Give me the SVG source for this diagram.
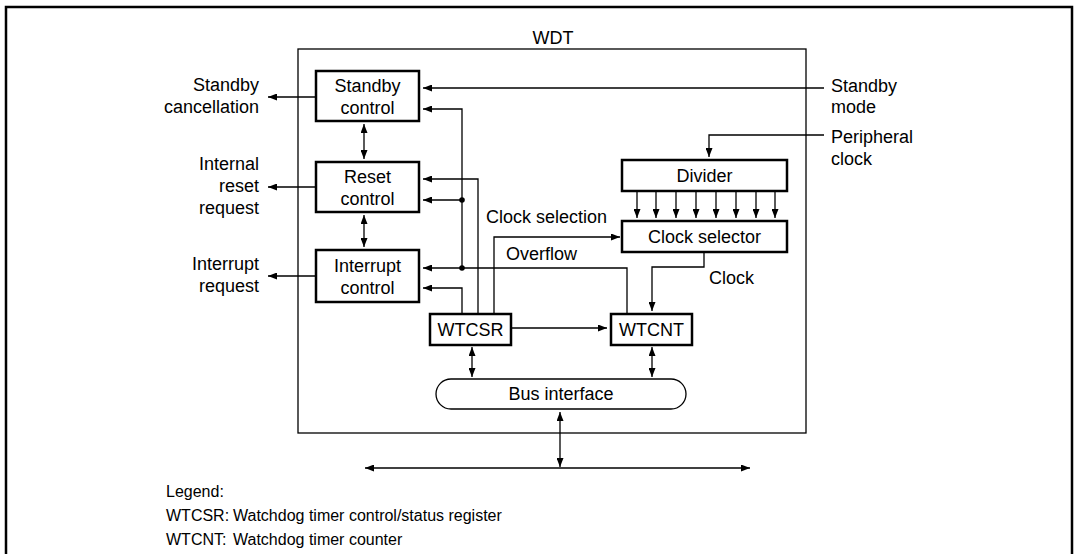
<svg xmlns="http://www.w3.org/2000/svg" width="1075" height="554" viewBox="0 0 1075 554">
<defs>
<marker id="ah" markerUnits="userSpaceOnUse" markerWidth="10" markerHeight="7" refX="9" refY="3.5" orient="auto-start-reverse"><path d="M0,0 L9,3.5 L0,7 z" fill="#000"/></marker>
<style>
text{font-family:"Liberation Sans",Arial,sans-serif;font-size:18px;fill:#000}
.lg{font-size:16px}
.box{fill:#fff;stroke:#000;stroke-width:2.5}
.thin{fill:none;stroke:#000;stroke-width:1.3}
.c{fill:none;stroke:#000;stroke-width:1.3}
.a{marker-end:url(#ah)}
.d{marker-start:url(#ah);marker-end:url(#ah)}
.m{text-anchor:middle}
.r{text-anchor:end}
</style>
</defs>
<rect width="1075" height="554" fill="#fff"/>
<path d="M6,556 V7 H1072 V556" fill="none" stroke="#000" stroke-width="2.5"/>
<g id="wdt">
<rect x="298" y="49" width="508" height="384" class="thin"/>
<text x="553" y="44" class="m">WDT</text>
</g>
<g id="connectors">
<!-- outputs left -->
<line x1="316" y1="97" x2="268" y2="97" class="c a"/>
<line x1="316" y1="187" x2="268" y2="187" class="c a"/>
<line x1="316" y1="276" x2="268" y2="276" class="c a"/>
<!-- between controls -->
<line x1="364" y1="124" x2="364" y2="159" class="c d"/>
<line x1="364" y1="215" x2="364" y2="247" class="c d"/>
<!-- standby mode -->
<line x1="824" y1="88" x2="423" y2="88" class="c a"/>
<!-- peripheral clock -->
<polyline points="824,135 709,135 709,157" class="c a"/>
<!-- overflow distribution -->
<polyline points="627,314 627,268 423,268" class="c a"/>
<polyline points="462,268 462,109 423,109" class="c a"/>
<line x1="462" y1="200" x2="423" y2="200" class="c a"/>
<circle cx="462" cy="200" r="2.8" fill="#000"/>
<circle cx="462" cy="268" r="2.8" fill="#000"/>
<!-- WTCSR outputs -->
<polyline points="462,314 462,288 423,288" class="c a"/>
<polyline points="478,314 478,179 423,179" class="c a"/>
<polyline points="494,314 494,237 620,237" class="c a"/>
<!-- divider to clock selector -->
<line x1="637" y1="191" x2="637" y2="218" class="c a"/>
<line x1="656" y1="191" x2="656" y2="218" class="c a"/>
<line x1="676" y1="191" x2="676" y2="218" class="c a"/>
<line x1="696" y1="191" x2="696" y2="218" class="c a"/>
<line x1="716" y1="191" x2="716" y2="218" class="c a"/>
<line x1="736" y1="191" x2="736" y2="218" class="c a"/>
<line x1="756" y1="191" x2="756" y2="218" class="c a"/>
<line x1="775" y1="191" x2="775" y2="218" class="c a"/>
<!-- clock -->
<polyline points="704,252 704,267 652,267 652,311" class="c a"/>
<!-- WTCSR to WTCNT -->
<line x1="511" y1="328" x2="607" y2="328" class="c a"/>
<!-- registers to bus interface -->
<line x1="472" y1="347" x2="472" y2="377" class="c d"/>
<line x1="652" y1="347" x2="652" y2="377" class="c d"/>
<!-- bus -->
<line x1="560" y1="412" x2="560" y2="467" class="c d"/>
<line x1="365" y1="468" x2="750" y2="468" class="c d"/>
</g>
<g id="standby-control">
<rect x="316" y="71" width="103" height="50" class="box"/>
<text x="367.5" y="92" class="m">Standby</text>
<text x="367.5" y="114" class="m">control</text>
</g>
<g id="reset-control">
<rect x="316" y="162" width="103" height="50" class="box"/>
<text x="367.5" y="183" class="m">Reset</text>
<text x="367.5" y="205" class="m">control</text>
</g>
<g id="interrupt-control">
<rect x="316" y="250" width="103" height="52" class="box"/>
<text x="367.5" y="272" class="m">Interrupt</text>
<text x="367.5" y="294" class="m">control</text>
</g>
<g id="divider">
<rect x="622" y="160" width="165" height="31" class="box"/>
<text x="704.5" y="182" class="m">Divider</text>
</g>
<g id="clock-selector">
<rect x="622" y="221" width="165" height="31" class="box"/>
<text x="704.5" y="243" class="m">Clock selector</text>
</g>
<g id="wtcsr">
<rect x="430" y="314" width="81" height="31" class="box"/>
<text x="470.5" y="336" class="m">WTCSR</text>
</g>
<g id="wtcnt">
<rect x="611" y="314" width="81" height="31" class="box"/>
<text x="651.5" y="336" class="m">WTCNT</text>
</g>
<g id="bus-interface">
<rect x="436" y="379" width="250" height="30" rx="15" ry="15" class="thin" fill="#fff"/>
<text x="561" y="400" class="m">Bus interface</text>
</g>
<g id="labels">
<text x="259" y="91" class="r">Standby</text>
<text x="259" y="113" class="r">cancellation</text>
<text x="259" y="170" class="r">Internal</text>
<text x="259" y="192" class="r">reset</text>
<text x="259" y="214" class="r">request</text>
<text x="259" y="270" class="r">Interrupt</text>
<text x="259" y="292" class="r">request</text>
<text x="831" y="92">Standby</text>
<text x="831" y="113">mode</text>
<text x="831" y="143">Peripheral</text>
<text x="831" y="165">clock</text>
<text x="486" y="223">Clock selection</text>
<text x="506" y="260">Overflow</text>
<text x="709" y="284">Clock</text>
</g>
<g id="legend">
<text x="166" y="497" class="lg">Legend:</text>
<text x="166" y="521" class="lg">WTCSR:</text>
<text x="233" y="521" class="lg">Watchdog timer control/status register</text>
<text x="166" y="545" class="lg">WTCNT:</text>
<text x="233" y="545" class="lg">Watchdog timer counter</text>
</g>
</svg>
